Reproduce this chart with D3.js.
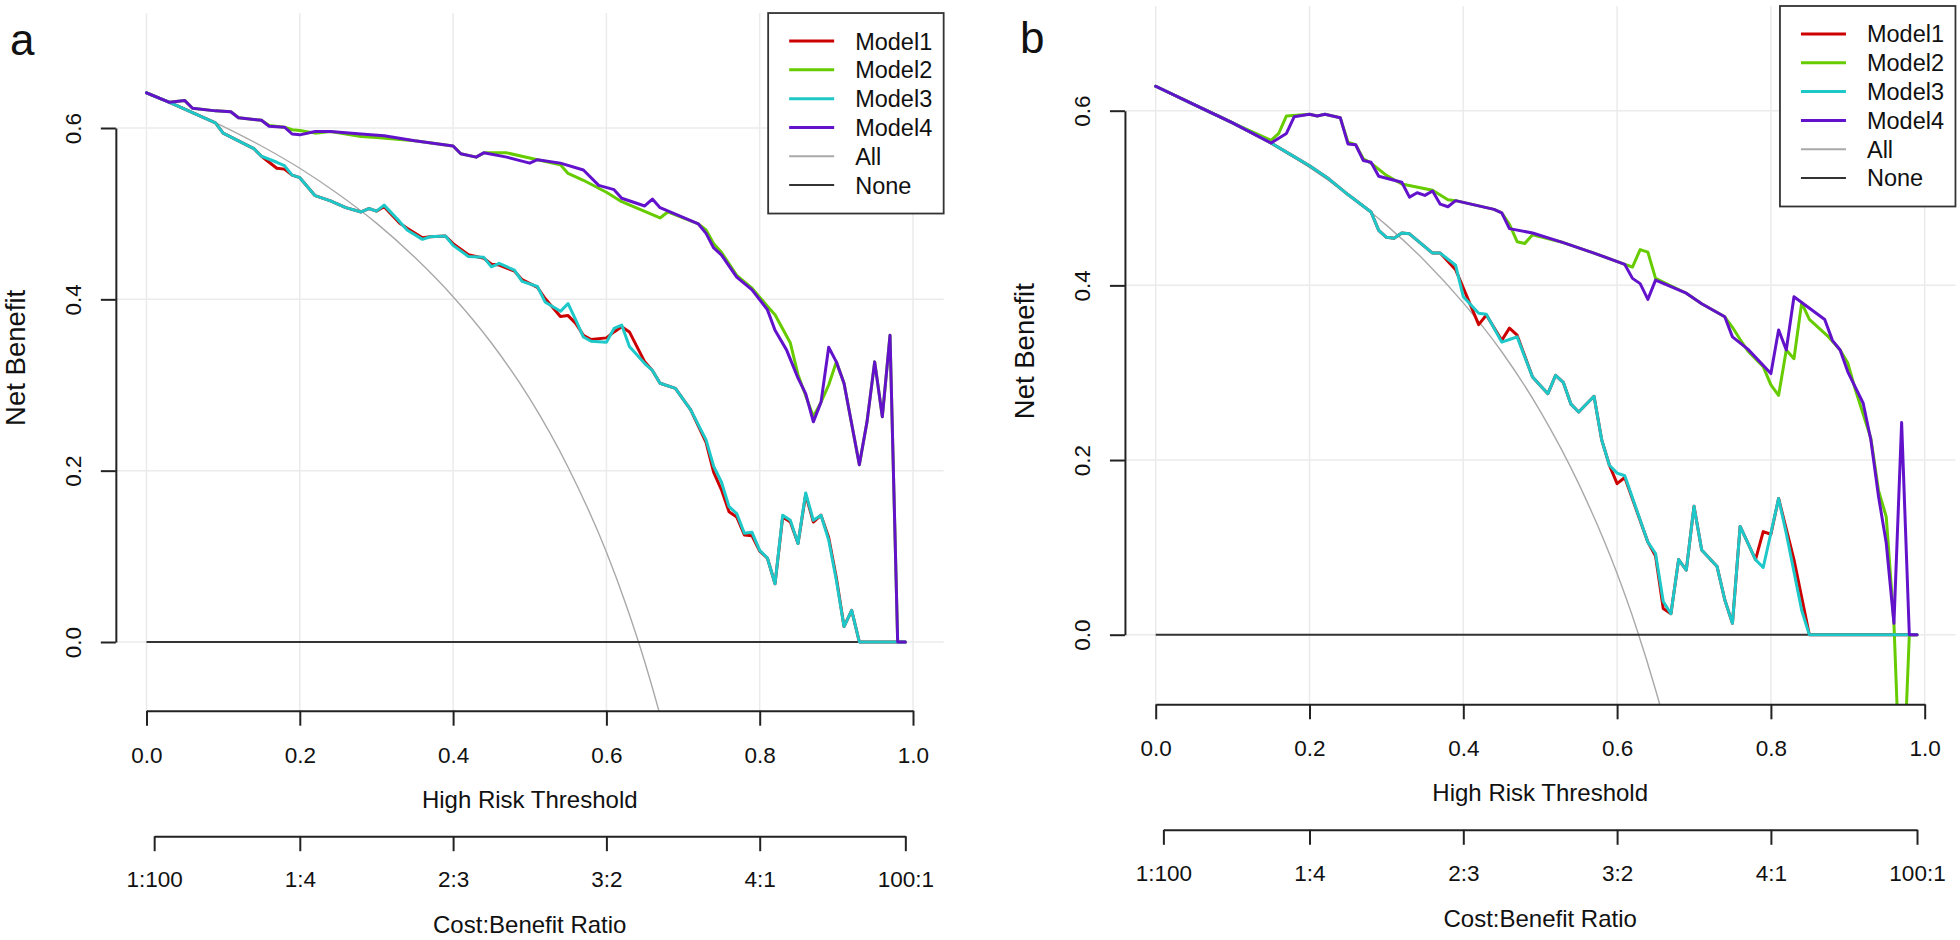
<!DOCTYPE html>
<html>
<head>
<meta charset="utf-8">
<script src="https://cdn.jsdelivr.net/npm/d3@7"></script>
<style>
  html, body { margin: 0; padding: 0; background: #fff; }
  svg { display: block; }
</style>
</head>
<body>
<svg id="chart" width="1960" height="940"></svg>
<script>
// legend order
const seriesNames = ["Model1", "Model2", "Model3", "Model4", "All", "None"];

const xTicks = [0, 0.2, 0.4, 0.6, 0.8, 1.0];
const yTicks = [0, 0.2, 0.4, 0.6];
const costTicks = [0.01, 0.2, 0.4, 0.6, 0.8, 0.99];
const costLabels = ["1:100", "1:4", "2:3", "3:2", "4:1", "100:1"];

// "treat all" curve
const allThresholds = [0, 0.05, 0.1, 0.15, 0.2, 0.25, 0.3, 0.35, 0.4, 0.45, 0.5, 0.55, 0.6, 0.625, 0.65, 0.675, 0.7];
const allA = [0.642, 0.623, 0.602, 0.579, 0.553, 0.523, 0.489, 0.449, 0.403, 0.349, 0.284, 0.204, 0.105, 0.045, -0.023, -0.102, -0.193];
const allB = [0.628, 0.608, 0.587, 0.562, 0.535, 0.504, 0.469, 0.428, 0.380, 0.324, 0.256, 0.173, 0.070, 0.008, -0.063, -0.145, -0.240];
const noneThresholds = [0, 0.99];

// panel a  [threshold, net benefit]
const aModel1 = [[0,0.641],[0.03,0.630],[0.09,0.606],[0.10,0.594],[0.14,0.576],[0.15,0.567],[0.17,0.553],[0.18,0.552],[0.19,0.545],[0.20,0.542],[0.22,0.521],[0.24,0.515],[0.26,0.507],[0.28,0.502],[0.29,0.506],[0.30,0.503],[0.31,0.508],[0.33,0.489],[0.34,0.483],[0.36,0.472],[0.37,0.473],[0.39,0.474],[0.40,0.465],[0.42,0.452],[0.44,0.448],[0.45,0.441],[0.46,0.440],[0.48,0.433],[0.49,0.423],[0.51,0.414],[0.52,0.401],[0.54,0.380],[0.55,0.381],[0.56,0.372],[0.57,0.358],[0.58,0.353],[0.60,0.355],[0.61,0.362],[0.62,0.368],[0.63,0.362],[0.65,0.327],[0.66,0.317],[0.67,0.302],[0.69,0.296],[0.71,0.271],[0.73,0.233],[0.74,0.198],[0.75,0.178],[0.76,0.152],[0.77,0.146],[0.78,0.125],[0.79,0.124],[0.80,0.106],[0.81,0.098],[0.82,0.068],[0.83,0.146],[0.84,0.140],[0.85,0.115],[0.86,0.172],[0.87,0.140],[0.88,0.148],[0.89,0.122],[0.90,0.075],[0.91,0.018],[0.92,0.037],[0.93,0],[0.99,0]];
const aModel2 = [[0,0.641],[0.03,0.630],[0.05,0.632],[0.06,0.623],[0.09,0.620],[0.11,0.619],[0.12,0.612],[0.15,0.609],[0.16,0.603],[0.18,0.601],[0.19,0.598],[0.20,0.597],[0.22,0.594],[0.24,0.596],[0.28,0.590],[0.30,0.589],[0.35,0.585],[0.40,0.579],[0.41,0.570],[0.43,0.566],[0.44,0.571],[0.47,0.571],[0.51,0.563],[0.54,0.557],[0.55,0.547],[0.57,0.539],[0.60,0.525],[0.62,0.514],[0.67,0.495],[0.68,0.502],[0.72,0.488],[0.73,0.481],[0.74,0.465],[0.75,0.455],[0.77,0.428],[0.79,0.413],[0.81,0.392],[0.82,0.382],[0.84,0.349],[0.85,0.312],[0.87,0.263],[0.88,0.280],[0.89,0.300],[0.90,0.327],[0.91,0.302],[0.93,0.207],[0.94,0.257],[0.95,0.327],[0.96,0.263],[0.97,0.358],[0.98,0],[0.99,0]];
const aModel3 = [[0,0.641],[0.03,0.630],[0.09,0.606],[0.10,0.594],[0.14,0.576],[0.15,0.567],[0.17,0.560],[0.18,0.556],[0.19,0.545],[0.20,0.542],[0.22,0.521],[0.24,0.515],[0.26,0.507],[0.28,0.502],[0.29,0.506],[0.30,0.503],[0.31,0.510],[0.33,0.491],[0.34,0.481],[0.36,0.470],[0.37,0.473],[0.39,0.474],[0.40,0.463],[0.42,0.450],[0.44,0.449],[0.45,0.438],[0.46,0.442],[0.48,0.434],[0.49,0.421],[0.51,0.415],[0.52,0.397],[0.54,0.386],[0.55,0.395],[0.56,0.376],[0.57,0.356],[0.58,0.351],[0.60,0.350],[0.61,0.366],[0.62,0.370],[0.63,0.345],[0.65,0.325],[0.66,0.317],[0.67,0.302],[0.69,0.296],[0.71,0.271],[0.73,0.236],[0.74,0.205],[0.75,0.187],[0.76,0.158],[0.77,0.150],[0.78,0.127],[0.79,0.128],[0.80,0.107],[0.81,0.098],[0.82,0.068],[0.83,0.148],[0.84,0.142],[0.85,0.115],[0.86,0.174],[0.87,0.142],[0.88,0.148],[0.89,0.119],[0.90,0.072],[0.91,0.018],[0.92,0.037],[0.93,0],[0.99,0]];
const aModel4 = [[0,0.641],[0.03,0.630],[0.05,0.632],[0.06,0.623],[0.09,0.620],[0.11,0.619],[0.12,0.612],[0.15,0.609],[0.16,0.602],[0.18,0.601],[0.19,0.593],[0.20,0.592],[0.22,0.596],[0.24,0.596],[0.28,0.593],[0.31,0.591],[0.35,0.585],[0.40,0.579],[0.41,0.570],[0.43,0.566],[0.44,0.571],[0.47,0.566],[0.50,0.559],[0.51,0.563],[0.54,0.559],[0.57,0.551],[0.59,0.533],[0.61,0.528],[0.62,0.518],[0.65,0.509],[0.66,0.517],[0.67,0.507],[0.72,0.488],[0.73,0.477],[0.74,0.460],[0.75,0.452],[0.77,0.426],[0.79,0.411],[0.81,0.388],[0.82,0.364],[0.835,0.341],[0.85,0.308],[0.86,0.290],[0.87,0.257],[0.88,0.280],[0.89,0.344],[0.90,0.327],[0.91,0.302],[0.93,0.207],[0.94,0.257],[0.95,0.327],[0.96,0.263],[0.97,0.358],[0.98,0],[0.99,0]];

// panel b
const bModel1 = [[0,0.628],[0.05,0.607],[0.10,0.586],[0.15,0.563],[0.175,0.550],[0.20,0.537],[0.225,0.522],[0.25,0.504],[0.28,0.484],[0.29,0.463],[0.30,0.455],[0.31,0.454],[0.32,0.460],[0.33,0.459],[0.36,0.437],[0.37,0.437],[0.39,0.418],[0.42,0.355],[0.43,0.366],[0.45,0.337],[0.46,0.351],[0.47,0.343],[0.49,0.295],[0.51,0.276],[0.52,0.297],[0.53,0.289],[0.54,0.264],[0.55,0.255],[0.57,0.273],[0.58,0.223],[0.59,0.194],[0.60,0.173],[0.61,0.180],[0.64,0.106],[0.65,0.090],[0.66,0.030],[0.67,0.024],[0.68,0.086],[0.69,0.074],[0.70,0.147],[0.71,0.097],[0.73,0.078],[0.74,0.040],[0.75,0.013],[0.76,0.124],[0.78,0.086],[0.79,0.118],[0.80,0.115],[0.81,0.156],[0.83,0.086],[0.85,0],[0.99,0]];
const bModel2 = [[0,0.628],[0.05,0.607],[0.10,0.586],[0.15,0.566],[0.16,0.574],[0.17,0.594],[0.20,0.596],[0.21,0.594],[0.22,0.596],[0.24,0.592],[0.25,0.564],[0.26,0.561],[0.27,0.545],[0.28,0.540],[0.30,0.526],[0.32,0.516],[0.36,0.509],[0.38,0.498],[0.39,0.497],[0.44,0.487],[0.45,0.483],[0.46,0.470],[0.47,0.450],[0.48,0.448],[0.49,0.458],[0.53,0.449],[0.57,0.437],[0.61,0.424],[0.62,0.421],[0.63,0.441],[0.64,0.438],[0.65,0.408],[0.69,0.391],[0.71,0.379],[0.74,0.364],[0.75,0.352],[0.76,0.338],[0.77,0.325],[0.79,0.307],[0.80,0.286],[0.81,0.274],[0.82,0.326],[0.83,0.316],[0.84,0.380],[0.85,0.361],[0.875,0.341],[0.89,0.326],[0.90,0.311],[0.91,0.280],[0.93,0.225],[0.94,0.165],[0.95,0.135],[0.96,0.013],[0.97,-0.22],[0.98,0],[0.99,0]];
const bModel3 = [[0,0.628],[0.05,0.607],[0.10,0.586],[0.15,0.563],[0.175,0.550],[0.20,0.537],[0.225,0.522],[0.25,0.504],[0.28,0.484],[0.29,0.463],[0.30,0.455],[0.31,0.454],[0.32,0.460],[0.33,0.459],[0.36,0.437],[0.37,0.437],[0.39,0.423],[0.40,0.387],[0.42,0.368],[0.43,0.367],[0.45,0.335],[0.46,0.338],[0.47,0.341],[0.49,0.295],[0.51,0.276],[0.52,0.297],[0.53,0.289],[0.54,0.264],[0.55,0.255],[0.57,0.273],[0.58,0.223],[0.59,0.194],[0.60,0.185],[0.61,0.182],[0.64,0.106],[0.65,0.093],[0.66,0.038],[0.67,0.024],[0.68,0.086],[0.69,0.074],[0.70,0.147],[0.71,0.097],[0.73,0.078],[0.74,0.040],[0.75,0.013],[0.76,0.124],[0.78,0.086],[0.79,0.077],[0.81,0.156],[0.82,0.116],[0.84,0.028],[0.85,0],[0.99,0]];
const bModel4 = [[0,0.628],[0.05,0.607],[0.10,0.586],[0.15,0.563],[0.17,0.574],[0.18,0.593],[0.20,0.596],[0.21,0.594],[0.22,0.596],[0.24,0.592],[0.25,0.562],[0.26,0.561],[0.27,0.543],[0.28,0.541],[0.29,0.525],[0.32,0.518],[0.33,0.501],[0.34,0.506],[0.35,0.503],[0.36,0.508],[0.37,0.493],[0.38,0.490],[0.39,0.497],[0.44,0.487],[0.45,0.483],[0.46,0.465],[0.49,0.460],[0.53,0.449],[0.57,0.437],[0.61,0.424],[0.62,0.408],[0.63,0.402],[0.64,0.384],[0.65,0.406],[0.69,0.391],[0.71,0.379],[0.74,0.364],[0.75,0.341],[0.77,0.327],[0.80,0.299],[0.81,0.349],[0.82,0.326],[0.83,0.387],[0.87,0.361],[0.88,0.337],[0.89,0.326],[0.90,0.301],[0.92,0.265],[0.93,0.223],[0.94,0.158],[0.95,0.105],[0.96,0.013],[0.97,0.243],[0.98,0],[0.99,0]];

const colors = ["#cd0000", "#66cc00", "#1ec8c8", "#6312cc", "#a9a9a9", "#333333"];
const widths = [3, 3, 3, 3, 1.4, 2];
const FONT = '"Liberation Sans", Arial, Helvetica, sans-serif';

// screen layout of each panel (pixel positions of 0 and 1 / 0 and 0.6)
const panels = [
  { letter: "a", letterPos: [10, 55], xRange: [146.5, 913], yRange: [642, 128], yLim: [-0.0802, 0.7342],
    models: [aModel1, aModel2, aModel3, aModel4], all: allA },
  { letter: "b", letterPos: [1020, 53], xRange: [1155.7, 1924.7], yRange: [634.7, 110.7], yLim: [-0.0797, 0.7199],
    models: [bModel1, bModel2, bModel3, bModel4], all: allB }
];

const svg = d3.select("#chart").style("font-family", FONT);

panels.forEach((p, pi) => {
  const x = d3.scaleLinear().domain([0, 1]).range(p.xRange);
  const y = d3.scaleLinear().domain([0, 0.6]).range(p.yRange);
  const left = x(-0.04), right = x(1.04);
  const top = y(p.yLim[1]), bottom = y(p.yLim[0]);

  const g = svg.append("g");

  g.append("clipPath").attr("id", "clip" + pi)
    .append("rect").attr("x", left).attr("y", top)
    .attr("width", right - left).attr("height", bottom - top);

  // grid
  g.append("g").selectAll("line").data(xTicks).enter().append("line")
    .attr("x1", d => x(d)).attr("x2", d => x(d))
    .attr("y1", top).attr("y2", bottom)
    .attr("stroke", "#ebebeb").attr("stroke-width", 1.5);
  g.append("g").selectAll("line").data(yTicks).enter().append("line")
    .attr("x1", left).attr("x2", right)
    .attr("y1", d => y(d)).attr("y2", d => y(d))
    .attr("stroke", "#ebebeb").attr("stroke-width", 1.5);

  const lines = g.append("g").attr("clip-path", "url(#clip" + pi + ")");

  // All
  const allLine = d3.line().x(d => x(d[0])).y(d => y(d[1])).curve(d3.curveMonotoneX);
  lines.append("path")
    .datum(allThresholds.map((t, i) => [t, p.all[i]]))
    .attr("d", allLine)
    .attr("fill", "none").attr("stroke", colors[4]).attr("stroke-width", widths[4]);

  // None
  const line = d3.line().x(d => x(d[0])).y(d => y(d[1]));
  lines.append("path")
    .datum(noneThresholds.map(t => [t, 0]))
    .attr("d", line)
    .attr("fill", "none").attr("stroke", colors[5]).attr("stroke-width", widths[5]);

  // models
  p.models.forEach((m, i) => {
    lines.append("path").datum(m).attr("d", line)
      .attr("fill", "none").attr("stroke", colors[i]).attr("stroke-width", widths[i])
      .attr("stroke-linejoin", "round").attr("stroke-linecap", "round");
  });

  // y axis
  const yAxis = g.append("g").attr("transform", "translate(" + left + ",0)")
    .call(d3.axisLeft(y).tickValues(yTicks).tickSize(15).tickSizeOuter(0).tickFormat(d3.format(".1f")));
  yAxis.selectAll("text")
    .attr("x", 0).attr("y", -35).attr("dy", null)
    .attr("transform", "rotate(-90)")
    .attr("text-anchor", "middle");

  // x axis
  const xAxis = g.append("g").attr("transform", "translate(0," + bottom + ")")
    .call(d3.axisBottom(x).tickValues(xTicks).tickSize(15).tickSizeOuter(0).tickFormat(d3.format(".1f")));
  xAxis.selectAll("text").attr("y", 52).attr("dy", null);

  // cost:benefit axis
  const x2 = d3.scaleLinear().domain([0.01, 0.99]).range([x(0.01), x(0.99)]);
  const cAxis = g.append("g").attr("transform", "translate(0," + (bottom + 125.5) + ")")
    .call(d3.axisBottom(x2).tickValues(costTicks).tickSize(15).tickSizeOuter(0)
      .tickFormat((d, i) => costLabels[i]));
  cAxis.selectAll("text").attr("y", 51).attr("dy", null);

  [yAxis, xAxis, cAxis].forEach(ax => {
    ax.attr("font-family", FONT).attr("font-size", 22.5);
    ax.select(".domain").attr("stroke", "#222").attr("stroke-width", 2);
    ax.selectAll(".tick line").attr("stroke", "#222").attr("stroke-width", 2);
    ax.selectAll("text").attr("fill", "#111");
  });

  // titles
  const cx = (left + right) / 2;
  g.append("text").attr("x", cx).attr("y", bottom + 97)
    .attr("text-anchor", "middle").attr("font-size", 24).attr("fill", "#111")
    .text("High Risk Threshold");
  g.append("text").attr("x", cx).attr("y", bottom + 222.5)
    .attr("text-anchor", "middle").attr("font-size", 24).attr("fill", "#111")
    .text("Cost:Benefit Ratio");
  g.append("text")
    .attr("transform", "translate(" + (left - 90.5) + "," + ((top + bottom) / 2 - 4) + ") rotate(-90)")
    .attr("text-anchor", "middle").attr("font-size", 27.5).attr("fill", "#111")
    .text("Net Benefit");

  // legend
  const lw = 175.5, lh = 200.5;
  const lg = g.append("g").attr("transform", "translate(" + (right - lw) + "," + top + ")");
  lg.append("rect").attr("width", lw).attr("height", lh)
    .attr("fill", "#fff").attr("stroke", "#333").attr("stroke-width", 1.8);
  const items = lg.selectAll("g.item").data(seriesNames).enter().append("g")
    .attr("class", "item")
    .attr("transform", (d, i) => "translate(0," + (28 + i * 28.8) + ")");
  items.append("line").attr("x1", 21).attr("x2", 66)
    .attr("stroke", (d, i) => colors[i])
    .attr("stroke-width", (d, i) => i < 4 ? 3 : 2);
  items.append("text").attr("x", 87).attr("y", 8.5)
    .attr("font-size", 23.5).attr("fill", "#111").text(d => d);

  // panel letter
  g.append("text").attr("x", p.letterPos[0]).attr("y", p.letterPos[1])
    .attr("font-size", 44).attr("fill", "#111").text(p.letter);
});
</script>
</body>
</html>
